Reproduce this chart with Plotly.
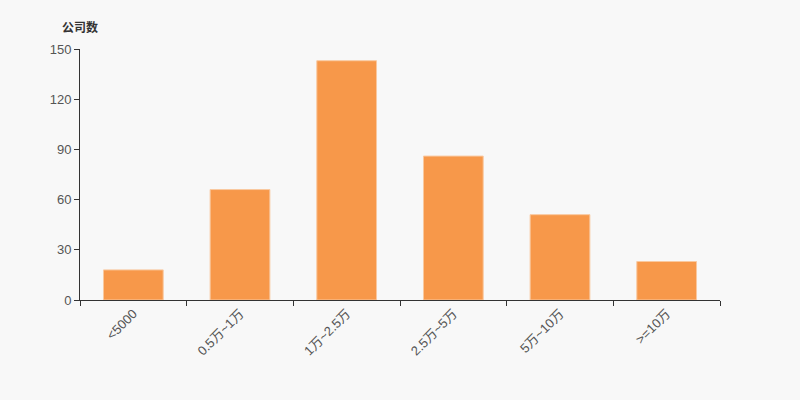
import plotly.graph_objects as go

categories = ["<5000", "0.5万~1万", "1万~2.5万", "2.5万~5万", "5万~10万", ">=10万"]
counts = [18, 66, 143, 86, 51, 23]
y_title = "公司数"

font_family = "Liberation Sans, Arial, Noto Sans CJK SC, sans-serif"

fig = go.Figure(
    go.Bar(
        x=categories,
        y=counts,
        marker=dict(color="#F7984A", line=dict(color="#F9C9A0", width=1)),
        hoverinfo="x+y",
    )
)

fig.update_layout(
    width=800,
    height=400,
    paper_bgcolor="#F8F8F8",
    plot_bgcolor="#F8F8F8",
    margin=dict(l=80, r=80, t=49, b=100),
    bargap=0.44,
    showlegend=False,
    font=dict(family=font_family, size=13, color="#333333"),
    annotations=[
        dict(
            text="<b>" + y_title + "</b>",
            xref="paper", yref="paper",
            x=0, y=1, xanchor="center", yanchor="bottom",
            yshift=12,
            showarrow=False,
            font=dict(size=12, color="#333333", family=font_family),
        )
    ],
)

fig.update_xaxes(
    type="category",
    showline=True, linecolor="#333333", linewidth=1,
    ticks="outside", ticklen=5, tickcolor="#333333",
    tickson="boundaries",
    tickangle=-45,
    showgrid=False,
    tickfont=dict(size=13, color="#555555"),
)
fig.update_yaxes(
    range=[0, 150], dtick=30,
    showline=True, linecolor="#333333", linewidth=1,
    ticks="outside", ticklen=5, tickcolor="#333333",
    showgrid=False, zeroline=False,
    tickfont=dict(size=13, color="#555555"),
)

fig.write_html(
    "out.html",
    config={"displayModeBar": False},
    post_script="document.body.style.margin='0';document.body.style.background='#F8F8F8';",
)
